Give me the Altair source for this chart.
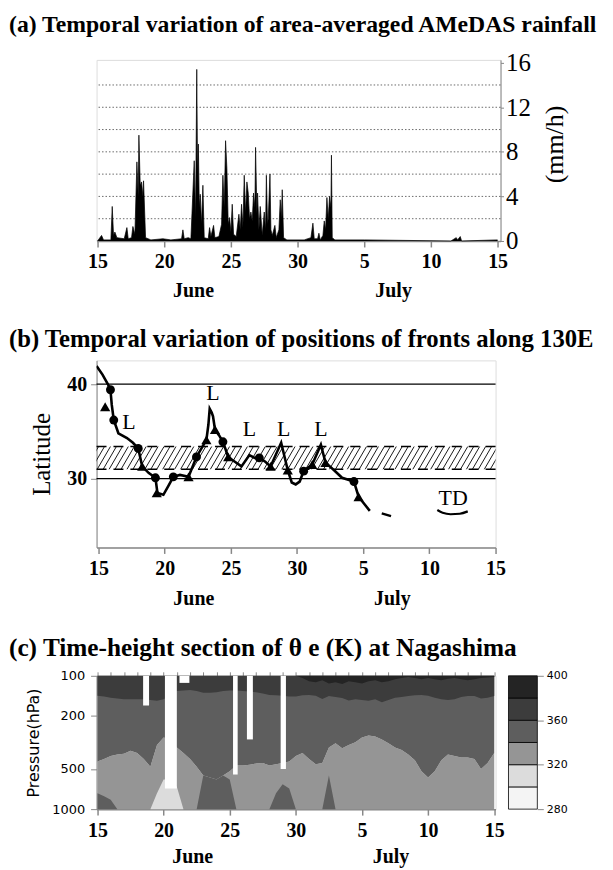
import altair as alt
import pandas as pd
import numpy as np

SERIF = "Liberation Serif"
SANS = "DejaVu Sans"

TITLE_A = "(a)  Temporal variation of area-averaged AMeDAS rainfall"
TITLE_B = "(b) Temporal variation of positions of fronts along 130E"
TITLE_C = "(c) Time-height section of  θ e  (K) at Nagashima"
UNIT_A = "(mm/h)"

month_names = ["June", "July"]
month_pos = [22.2, 37.2]
day_ticks = [15, 20, 25, 30, 35, 40, 45]
DAY_LABEL = "datum.value > 30 ? datum.value - 30 : datum.value"

# ---------------- (a) area-averaged AMeDAS rainfall ----------------
rain_day = [15.0, 15.3, 15.45, 16.0, 16.1, 16.2, 16.3, 16.45, 17.0, 17.2, 17.3, 17.55, 17.65, 17.8,
            17.95, 18.05, 18.1, 18.2, 18.3, 18.4, 18.45, 18.6, 19.0, 19.9, 20.5, 21.3, 21.4, 21.5,
            21.8, 22.0, 22.25, 22.35, 22.44, 22.5, 22.56, 22.63, 22.7, 22.8, 22.9, 23.0, 23.3, 23.4,
            23.5, 23.7, 23.8, 24.1, 24.3, 24.4, 24.5, 24.6, 24.7, 24.8, 24.9, 25.0, 25.1, 25.2, 25.4,
            25.6, 25.7, 25.8, 25.9, 26.0, 26.1, 26.2, 26.3, 26.4, 26.5, 26.6, 26.7, 26.8, 26.85, 26.95,
            27.0, 27.1, 27.2, 27.35, 27.5, 27.6, 27.66, 27.75, 27.8, 27.93, 28.0, 28.1, 28.3, 28.4,
            28.6, 28.7, 28.78, 28.85, 28.95, 29.2, 30.5, 31.0, 31.15, 31.25, 31.5, 31.6, 31.7, 31.9,
            32.0, 32.1, 32.2, 32.3, 32.4, 32.5, 32.54, 32.6, 32.8, 35.0, 41.5, 41.9, 42.0, 42.2, 42.3, 45.0]
rain_mm = [0.0, 0.5, 0.1, 0.1, 3.1, 0.5, 0.8, 0.3, 0.2, 1.2, 0.2, 0.3, 1.3, 0.6,
           7.1, 4.0, 9.5, 5.0, 5.3, 4.0, 5.4, 0.3, 0.1, 0.2, 0.1, 0.2, 1.0, 0.2,
           0.3, 0.2, 7.2, 2.0, 15.4, 6.0, 8.7, 3.0, 4.2, 1.5, 5.0, 0.3, 0.2, 1.2,
           0.4, 1.4, 0.3, 0.4, 1.5, 5.9, 3.0, 9.0, 6.5, 1.5, 2.1, 0.8, 3.3, 0.6, 0.4,
           2.4, 1.0, 3.3, 1.2, 5.9, 2.5, 5.3, 4.3, 2.0, 2.6, 1.8, 4.3, 3.0, 8.4, 2.5,
           4.3, 1.0, 3.1, 0.5, 2.6, 1.0, 5.9, 1.5, 2.0, 6.0, 1.0, 0.5, 1.4, 0.3,
           1.0, 3.7, 2.0, 4.6, 0.3, 0.1, 0.1, 0.3, 1.6, 0.2, 0.2, 0.7, 0.1, 0.5,
           1.8, 1.0, 3.9, 2.0, 4.0, 3.0, 7.7, 0.3, 0.1, 0.1, 0.0, 0.3, 0.1, 0.4, 0.0, 0.1]
grid_levels = [2, 4, 6, 8, 10, 12, 14]
rain_ticks = [0, 4, 8, 12, 16]

# ---------------- (b) fronts along 130E ----------------
front_day = [14.85, 15.3, 15.7, 15.9, 16.0, 16.15, 16.5, 17.15, 17.6, 18.0, 18.3, 18.8, 19.3, 19.45,
             19.9, 20.3, 20.65, 21.15, 21.8, 22.4, 22.9, 23.15, 23.3, 23.4, 23.55, 23.65, 23.8,
             24.1, 24.4, 24.8, 25.3, 25.8, 26.4, 26.8, 27.15, 27.6, 28.0, 28.8, 29.3, 29.6, 29.9,
             30.2, 30.5, 31.15, 31.8, 32.15, 32.8, 33.4, 34.3, 34.65, 35.1, 35.5]
front_lat = [41.9, 41.0, 40.0, 39.4, 37.8, 36.2, 34.8, 34.3, 33.8, 33.2, 31.3, 30.6, 30.1, 28.5,
             28.3, 29.3, 30.2, 30.4, 30.2, 32.3, 33.5, 34.1, 35.7, 37.4, 37.0, 36.6, 35.2,
             34.6, 33.9, 32.3, 31.8, 31.3, 32.5, 32.2, 32.2, 31.8, 31.3, 33.8, 30.9, 29.6, 29.4,
             29.7, 30.8, 31.5, 33.6, 31.7, 30.9, 30.1, 29.7, 28.1, 27.3, 26.6]
dash_day = [36.4, 37.1]
dash_lat = [26.35, 26.05]
warm_day = [15.9, 16.15, 18.0, 19.3, 20.65, 22.4, 24.4, 27.15, 30.5, 34.3]
warm_lat = [39.4, 36.2, 33.2, 30.1, 30.2, 32.3, 33.9, 32.2, 30.8, 29.7]
cold_day = [15.5, 18.3, 19.4, 21.8, 23.15, 23.8, 24.8, 28.0, 29.3, 31.15, 32.15, 34.65]
cold_lat = [37.6, 31.3, 28.5, 30.2, 34.1, 35.2, 32.3, 31.3, 30.9, 31.5, 31.7, 28.1]
low_day = [17.3, 23.65, 26.4, 29.0, 31.8]
low_lat = [36.0, 39.0, 35.3, 35.3, 35.3]
td_day = [41.8]
td_lat = [28.0]
td_line_day = [40.6, 41.0, 41.6, 42.3, 42.9]
td_line_lat = [26.7, 26.4, 26.25, 26.3, 26.55]
band_lo = 31.0
band_hi = 33.4
lat_ticks = [30, 40]

# ---------------- (c) theta-e time-height section ----------------
sec_day = [15.0, 15.5, 16.0, 16.5, 17.0, 17.5, 18.0, 18.5, 19.0, 19.5,
           20.0, 20.5, 21.0, 21.5, 22.0, 22.5, 23.0, 23.5, 24.0, 24.5,
           25.0, 25.5, 26.0, 26.5, 27.0, 27.5, 28.0, 28.5, 29.0, 29.5,
           30.0, 30.5, 31.0, 31.5, 32.0, 32.5, 33.0, 33.5, 34.0, 34.5,
           35.0, 35.5, 36.0, 36.5, 37.0, 37.5, 38.0, 38.5, 39.0, 39.5,
           40.0, 40.5, 41.0, 41.5, 42.0, 42.5, 43.0, 43.5, 44.0, 44.5, 45.0]
p380 = [100, 100, 100, 100, 100, 100, 100, 100, 100, 100,
        100, 100, 100, 100, 100, 100, 100, 100, 100, 100,
        100, 100, 100, 100, 100, 100, 100, 100, 100, 100,
        100, 104, 110, 112, 108, 114, 112, 115, 110, 112,
        114, 110, 108, 112, 110, 106, 104, 102, 104, 106,
        104, 106, 108, 105, 104, 106, 108, 106, 104, 103, 102]
p360 = [141, 143, 146, 148, 150, 150, 150, 150, 152, 154,
        150, 140, 130, 129, 128, 130, 134, 134, 133, 130,
        129, 129, 130, 131, 133, 136, 139, 140, 141, 143,
        143, 140, 139, 141, 149, 142, 144, 147, 153, 150,
        152, 154, 150, 158, 152, 146, 144, 142, 140, 139,
        141, 146, 150, 152, 150, 144, 142, 142, 148, 146, 142]
p340 = [440, 420, 400, 390, 385, 365, 380, 420, 480, 330,
        290, 300, 345, 380, 420, 480, 560, 580, 600, 560,
        520, 470, 470, 465, 455, 450, 470, 460, 450, 440,
        400, 380, 420, 460, 450, 345, 320, 350, 330, 315,
        290, 280, 285, 300, 320, 345, 360, 390, 430, 520,
        580, 520, 430, 390, 400, 410, 410, 420, 500, 450, 380]
pmoist = [760, 800, 850, 1000, 1000, 1000, 1000, 1000, 1000, 1000,
          1000, 1000, 1000, 1000, 1000, 1000, 560, 580, 600, 560,
          600, 1000, 1000, 1000, 1000, 1000, 1000, 760, 650, 700,
          1000, 1000, 1000, 1000, 1000, 560, 1000, 1000, 1000, 1000,
          1000, 1000, 1000, 1000, 1000, 1000, 1000, 1000, 1000, 1000,
          1000, 1000, 1000, 1000, 1000, 1000, 1000, 1000, 1000, 1000, 1000]
pcool = [1000, 1000, 1000, 1000, 1000, 1000, 1000, 1000, 1000, 760,
         600, 600, 680, 1000, 1000, 1000, 1000, 1000, 1000, 1000,
         1000, 1000, 1000, 1000, 1000, 1000, 1000, 1000, 1000, 1000,
         1000, 1000, 1000, 1000, 1000, 1000, 1000, 1000, 1000, 1000,
         1000, 1000, 1000, 1000, 1000, 1000, 1000, 1000, 1000, 1000,
         1000, 1000, 1000, 1000, 1000, 1000, 1000, 1000, 1000, 1000, 1000]
miss_start = [18.45, 20.1, 21.2, 25.25, 26.3, 28.85]
miss_end = [18.9, 21.0, 21.95, 25.6, 26.75, 29.25]
miss_bottom = [167, 700, 113, 550, 300, 500]
pres_ticks = [100, 200, 500, 1000]
legend_lo = [280, 300, 320, 340, 360, 380]
legend_hi = [300, 320, 340, 360, 380, 400]
legend_fill = ["#f4f4f4", "#dcdcdc", "#959595", "#5e5e5e", "#3c3c3c", "#242424"]
legend_ticks = [280, 320, 360, 400]
C380, C360, C340, C320, C300 = "#242424", "#3c3c3c", "#5e5e5e", "#959595", "#dcdcdc"


def title_layer(text, ypix, size):
    return alt.Chart(pd.DataFrame({"t": [text]})).mark_text(
        align="left", baseline="middle", font=SERIF, fontSize=size, fontWeight="bold", color="black"
    ).encode(x=alt.value(-88), y=alt.value(ypix), text="t:N")


def month_layer(scale, ypix):
    return alt.Chart(pd.DataFrame({"m": month_names, "d": month_pos})).mark_text(
        font=SERIF, fontSize=20, fontWeight="bold", baseline="middle", color="black"
    ).encode(x=alt.X("d:Q", scale=scale, axis=None), y=alt.value(ypix), text="m:N")


def bottom_axis():
    return alt.Axis(values=day_ticks, labelExpr=DAY_LABEL, tickSize=6, tickWidth=1.5, domainWidth=1.5,
                    labelFont=SERIF, labelFontSize=20, labelFontWeight="bold", labelPadding=5,
                    labelFlush=False, labelOverlap=False, title=None, grid=False)


# ---------- panel (a) ----------
HA, WA = 182, 406
xa = alt.Scale(domain=[14.925, 45.22], nice=False, zero=False)
ya = alt.Scale(domain=[0, 16.25], nice=False, zero=True)
grid_a = alt.Chart(pd.DataFrame({"level": grid_levels})).mark_rule(
    color="#444", strokeDash=[1.5, 2], strokeWidth=0.8).encode(y=alt.Y("level:Q", scale=ya, axis=None))
rain_area = alt.Chart(pd.DataFrame({"day": rain_day, "mm": rain_mm})).mark_area(
    color="black", opacity=1, line={"color": "black", "strokeWidth": 0.7}).encode(
    x=alt.X("day:Q", scale=xa, axis=bottom_axis()),
    y=alt.Y("mm:Q", scale=ya, axis=alt.Axis(
        orient="right", values=rain_ticks, tickSize=3, labelFont=SERIF, labelFontSize=25,
        labelPadding=2, labelFlush=False, title=None, grid=False)))
unit_a = alt.Chart(pd.DataFrame({"t": [UNIT_A]})).mark_text(
    font=SERIF, fontSize=26, angle=270, baseline="middle", align="center", color="black").encode(
    x=alt.value(WA + 55), y=alt.value(85), text="t:N")
panel_a = alt.layer(grid_a, rain_area, unit_a, title_layer(TITLE_A, -35, 23.8), month_layer(xa, HA + 50)).properties(
    width=WA, height=HA).resolve_axis(x="independent", y="independent")

# ---------- panel (b) ----------
HB, WB = 188, 401
xb = alt.Scale(domain=[14.85, 45], nice=False, zero=False)
yb = alt.Scale(domain=[22.74, 42.5], nice=False, zero=False)
hx0 = np.arange(14.0, 45.2, 0.45)
hatch = alt.Chart(pd.DataFrame({"x0": hx0, "x1": hx0 + 1.0, "lo": band_lo, "hi": band_hi})).mark_rule(
    clip=True, color="black", strokeWidth=0.9).encode(
    x=alt.X("x0:Q", scale=xb, axis=None), x2="x1:Q", y=alt.Y("lo:Q", scale=yb, axis=None), y2="hi:Q")
band_edges = alt.Chart(pd.DataFrame({"lat": [band_lo, band_hi]})).mark_rule(
    color="black", strokeWidth=1.6, strokeDash=[10, 7]).encode(y=alt.Y("lat:Q", scale=yb, axis=None))
lat_rule = alt.Chart(pd.DataFrame({"lat": lat_ticks})).mark_rule(color="black", strokeWidth=1.3).encode(
    y=alt.Y("lat:Q", scale=yb, axis=alt.Axis(
        values=lat_ticks, tickSize=6, labelFont=SERIF, labelFontSize=20, labelFontWeight="bold",
        labelPadding=4, title="Latitude", titleFont=SERIF, titleFontSize=25, titleFontWeight="normal",
        titlePadding=12, grid=False)))
front = alt.Chart(pd.DataFrame({"d": front_day, "lat": front_lat, "o": list(range(len(front_day)))})).mark_line(
    color="black", strokeWidth=2.6, clip=True).encode(
    x=alt.X("d:Q", scale=xb, axis=bottom_axis()), y=alt.Y("lat:Q", scale=yb, axis=None), order="o:Q")
dash = alt.Chart(pd.DataFrame({"d": dash_day, "lat": dash_lat})).mark_line(color="black", strokeWidth=2.4).encode(
    x=alt.X("d:Q", scale=xb, axis=None), y=alt.Y("lat:Q", scale=yb, axis=None))
warm = alt.Chart(pd.DataFrame({"d": warm_day, "lat": warm_lat})).mark_point(
    shape="circle", filled=True, color="black", size=80, opacity=1).encode(
    x=alt.X("d:Q", scale=xb, axis=None), y=alt.Y("lat:Q", scale=yb, axis=None))
cold = alt.Chart(pd.DataFrame({"d": cold_day, "lat": cold_lat})).mark_point(
    shape="triangle-up", filled=True, color="black", size=105, opacity=1).encode(
    x=alt.X("d:Q", scale=xb, axis=None), y=alt.Y("lat:Q", scale=yb, axis=None))
lows = alt.Chart(pd.DataFrame({"d": low_day, "lat": low_lat, "t": ["L"] * len(low_day)})).mark_text(
    font=SERIF, fontSize=22, color="black").encode(
    x=alt.X("d:Q", scale=xb, axis=None), y=alt.Y("lat:Q", scale=yb, axis=None), text="t:N")
td = alt.Chart(pd.DataFrame({"d": td_day, "lat": td_lat, "t": ["TD"]})).mark_text(
    font=SERIF, fontSize=22, color="black").encode(
    x=alt.X("d:Q", scale=xb, axis=None), y=alt.Y("lat:Q", scale=yb, axis=None), text="t:N")
td_line = alt.Chart(pd.DataFrame({"d": td_line_day, "lat": td_line_lat})).mark_line(
    color="black", strokeWidth=2.2, interpolate="monotone").encode(
    x=alt.X("d:Q", scale=xb, axis=None), y=alt.Y("lat:Q", scale=yb, axis=None))
panel_b = alt.layer(lat_rule, hatch, band_edges, front, dash, warm, cold, lows, td, td_line,
                    title_layer(TITLE_B, -20, 24.8), month_layer(xb, HB + 52)).properties(
    width=WB, height=HB).resolve_axis(x="independent", y="independent")

# ---------- panel (c) ----------
HC, WC = 134, 401
xc = alt.Scale(domain=[14.93, 45.1], nice=False, zero=False)
yc = alt.Scale(type="log", domain=[100, 1000], reverse=True, nice=False)
sec = pd.DataFrame({"d": sec_day, "p380": p380, "p360": p360, "p340": p340, "pmoist": pmoist,
                    "pcool": pcool, "top": 100, "bottom": 1000})
base_c = alt.Chart(sec)
light = base_c.mark_area(color=C320, opacity=1).encode(
    x=alt.X("d:Q", scale=xc, axis=bottom_axis()),
    y=alt.Y("p340:Q", scale=yc, axis=alt.Axis(
        values=pres_ticks, format="d", tickSize=6, labelFont=SANS, labelFontSize=13, labelPadding=6,
        title="Pressure(hPa)", titleFont=SANS, titleFontSize=16, titleFontWeight="normal",
        titlePadding=10, grid=False)),
    y2="bottom:Q")
mid = base_c.mark_area(color=C340, opacity=1).encode(x=alt.X("d:Q", scale=xc, axis=None),
                                                     y=alt.Y("top:Q", scale=yc, axis=None), y2="p340:Q")
dark = base_c.mark_area(color=C360, opacity=1).encode(x=alt.X("d:Q", scale=xc, axis=None),
                                                      y=alt.Y("top:Q", scale=yc, axis=None), y2="p360:Q")
darkest = base_c.mark_area(color=C380, opacity=1).encode(x=alt.X("d:Q", scale=xc, axis=None),
                                                         y=alt.Y("top:Q", scale=yc, axis=None), y2="p380:Q")
moist = base_c.mark_area(color=C340, opacity=1).encode(x=alt.X("d:Q", scale=xc, axis=None),
                                                       y=alt.Y("pmoist:Q", scale=yc, axis=None), y2="bottom:Q")
cool = base_c.mark_area(color=C300, opacity=1).encode(x=alt.X("d:Q", scale=xc, axis=None),
                                                      y=alt.Y("pcool:Q", scale=yc, axis=None), y2="bottom:Q")
missing = alt.Chart(pd.DataFrame({"s": miss_start, "e": miss_end, "b": miss_bottom, "top": 100})).mark_rect(
    color="white", opacity=1).encode(
    x=alt.X("s:Q", scale=xc, axis=alt.Axis(orient="top", values=list(range(15, 46)), labels=False,
                                           tickSize=4, domain=False, title=None, grid=False)),
    x2="e:Q",
    y=alt.Y("top:Q", scale=yc, axis=None),
    y2="b:Q")
legend = alt.Chart(pd.DataFrame({"lo": legend_lo, "hi": legend_hi, "f": legend_fill})).mark_rect(
    stroke="black", strokeWidth=0.8).encode(
    x=alt.value(WC + 13), x2=alt.value(WC + 42),
    y=alt.Y("lo:Q", scale=alt.Scale(domain=[280, 400], nice=False, zero=False), axis=alt.Axis(
        orient="right", offset=42, values=legend_ticks, tickSize=6, labelFont=SANS, labelFontSize=11,
        labelPadding=3, title=None, domain=False, grid=False)),
    y2="hi:Q", fill=alt.Fill("f:N", scale=None))
panel_c = alt.layer(light, mid, dark, darkest, moist, cool, missing, legend,
                    title_layer(TITLE_C, -28, 25.4), month_layer(xc, HC + 48)).properties(
    width=WC, height=HC).resolve_scale(y="independent").resolve_axis(x="independent", y="independent")

chart = alt.vconcat(panel_a, panel_b, panel_c, spacing=25).properties(
    padding={"left": 0, "top": 2, "right": 0, "bottom": 0}
).configure_view(stroke="black", strokeWidth=1.3).configure_axis(
    domainColor="black", tickColor="black", labelColor="black", titleColor="black"
).configure(background="white")

chart.save("out.html", embed_options={"renderer": "svg", "actions": False})
